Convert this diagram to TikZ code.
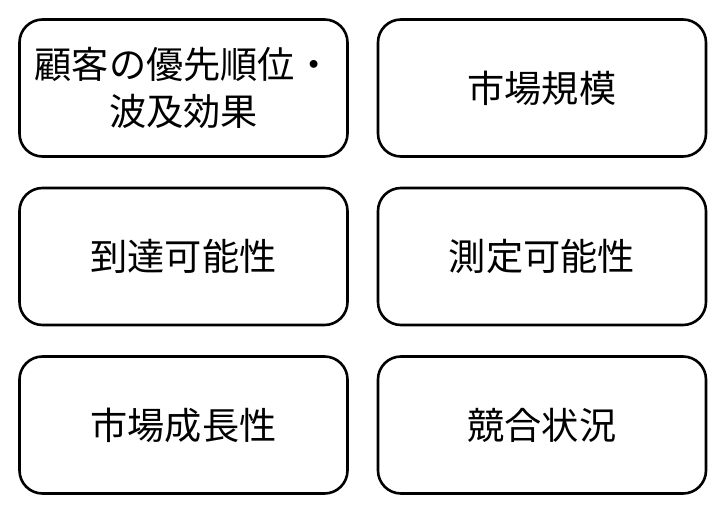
\documentclass[tikz,border=0pt]{standalone}
\usepackage{fontspec}
\newfontfamily\jpfont{Noto Sans CJK JP}
\usepackage{tikz}
\usetikzlibrary{positioning}

\begin{document}
\begin{tikzpicture}[x=0.5pt,y=-0.5pt,
  comp/.style={rectangle,draw=black,line width=1.3pt,rounded corners=11.5pt,
               minimum width=164pt,minimum height=68.5pt,align=center,
               font=\jpfont\fontsize{18.6}{23.5}\selectfont}
]
  \useasboundingbox (0,0) rectangle (720,509);
  \node[comp] (priority) at (183.5,88)  {顧客の優先順位・\\波及効果};
  \node[comp] (size)     at (542,88)    {市場規模};
  \node[comp] (reach)    at (183.5,256.5) {到達可能性};
  \node[comp] (measure)  at (542,256.5) {測定可能性};
  \node[comp] (growth)   at (183.5,425) {市場成長性};
  \node[comp] (rival)    at (542,425)   {競合状況};
\end{tikzpicture}
\end{document}
